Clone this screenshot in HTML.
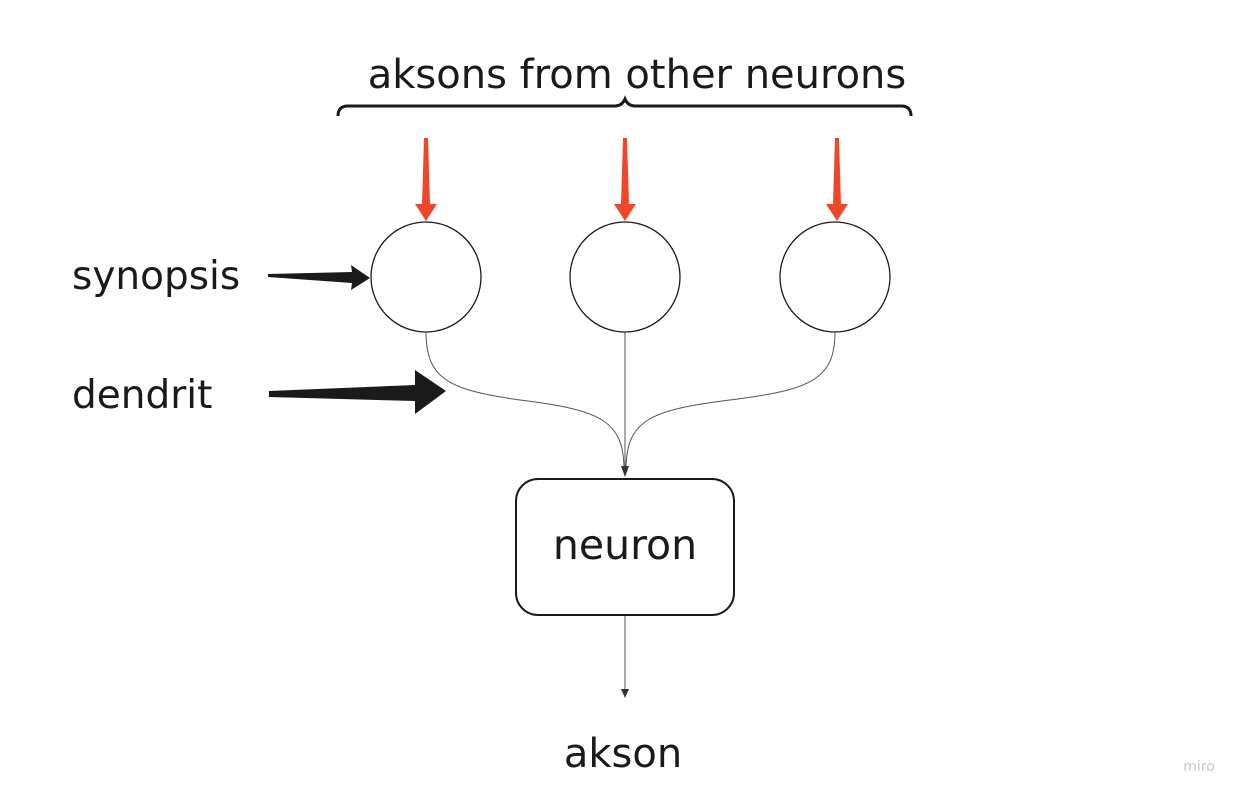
<!DOCTYPE html>
<html><head><meta charset="utf-8"><style>
body{margin:0;background:#fff;width:1248px;height:800px;overflow:hidden}
</style></head><body>
<svg width="1248" height="800" xmlns="http://www.w3.org/2000/svg" style="font-family:'DejaVu Sans','Liberation Sans',sans-serif">
<text x="637" y="88" font-size="40" text-anchor="middle" fill="#1a1a1a">aksons from other neurons</text>
<path d="M338,116 Q338,106 348,106 L615,106 Q622,106 625,99 Q628,106 635,106 L901,106 Q911,106 911,116" fill="none" stroke="#1a1a1a" stroke-width="3"/>
<g fill="#f0472a">
<polygon points="424,138 428,138 430,204 437,204 426,221 415,204 422,204"/>
<polygon points="623,138 627,138 629,204 636,204 625,221 614,204 621,204"/>
<polygon points="835,138 839,138 841,204 848,204 837,221 826,204 833,204"/>
</g>
<g fill="none" stroke="#1a1a1a" stroke-width="1.3">
<circle cx="426" cy="277" r="55"/>
<circle cx="625" cy="277" r="55"/>
<circle cx="835" cy="277" r="55"/>
</g>
<g fill="none" stroke="#555" stroke-width="1">
<path d="M426,332 C426,380 450,390 520,400 C600,410 624,420 624,470"/>
<path d="M625,332 L625,470"/>
<path d="M835,332 C835,380 810,390 730,400 C650,410 626,420 626,470"/>
<path d="M625,615 L625,692"/>
</g>
<polygon points="621,466 629,466 625,477" fill="#333"/>
<polygon points="621,689 629,689 625,698" fill="#333"/>
<rect x="516" y="479" width="218" height="136" rx="22" fill="#fff" stroke="#1a1a1a" stroke-width="2"/>
<text x="625" y="559" font-size="41" text-anchor="middle" fill="#1a1a1a">neuron</text>
<text x="623" y="767" font-size="40" text-anchor="middle" fill="#1a1a1a">akson</text>
<text x="72" y="289" font-size="39" fill="#1a1a1a">synopsis</text>
<text x="72" y="408" font-size="39" fill="#1a1a1a">dendrit</text>
<polygon points="268,274 352,272 351,265 370,278 351,290 352,283 268,277" fill="#1a1a1a"/>
<polygon points="269,391 415,385 415,370 446,391 415,414 415,401 269,397" fill="#1a1a1a"/>
<text x="1199" y="771" font-size="14" text-anchor="middle" fill="#c8c8c8">miro</text>
</svg>
</body></html>
